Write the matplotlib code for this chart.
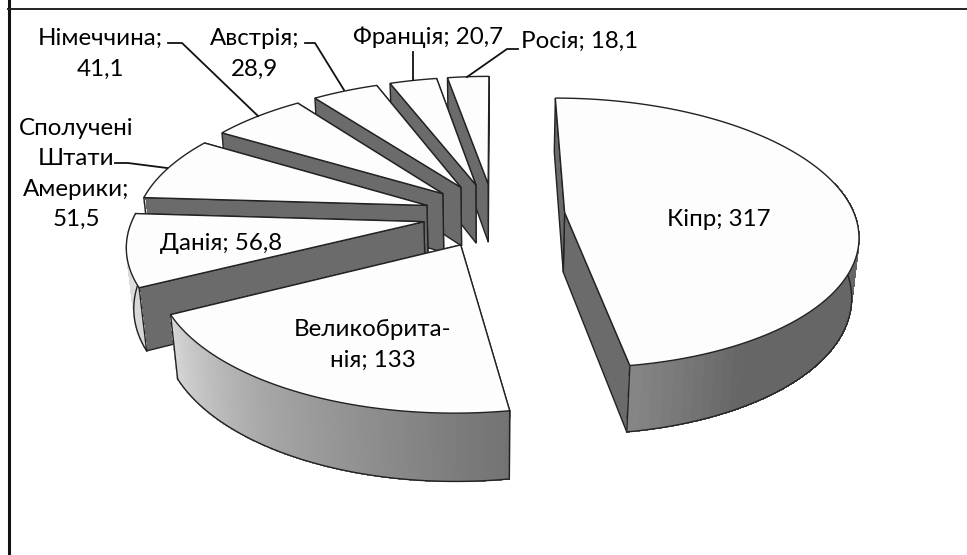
import numpy as np
import matplotlib
matplotlib.use("Agg")
import matplotlib.pyplot as plt
from matplotlib.patches import Polygon

plt.rcParams['font.family'] = ['Lato', 'Open Sans', 'DejaVu Sans']

countries = ['Кіпр', 'Великобританія', 'Данія', 'Сполучені Штати Америки',
             'Німеччина', 'Австрія', 'Франція', 'Росія']
values = [317, 133, 56.8, 51.5, 41.1, 28.9, 20.7, 18.1]

# projection of the tilted pie, fitted by eye (pixels)
CX, CY = 494, 215
AX_X, AX_Y = 290, 132.5
PERSP = 0.152
EXPLODE = 0.245
DEPTH = 61
DEPTH_W = 0.02

TOP = '#fdfdfd'
CUT = '#6b6b6b'
EDGE = '#222222'


def project(x, y, low=False):
    w = 1 + PERSP * y
    if low:
        w = w + DEPTH_W
        return CX + AX_X * x / w, CY + (DEPTH - AX_Y * y) / w
    return CX + AX_X * x / w, CY - AX_Y * y / w


def rim_grey(deg):
    g = np.interp(deg, [90, 150, 171, 171.01, 215, 243, 275],
                  [0x66, 0x66, 0x86, 0x72, 0xa8, 0xd6, 0xe0])
    return str(g / 255)


fig, ax = plt.subplots(figsize=(9.67, 5.55), dpi=100)
fig.patch.set_facecolor('white')
ax.set_position([0, 0, 1, 1])
ax.set_xlim(0, 967)
ax.set_ylim(555, 0)
ax.axis('off')

ax.plot([9, 9], [0, 555], color='#111111', lw=2.2, zorder=1)
ax.plot([8, 967], [8.5, 8.5], color='#222222', lw=1.4, zorder=1)

shares = np.array(values) / sum(values) * 360
starts = np.concatenate([[0], np.cumsum(shares)[:-1]])
# back to front
order = [7, 6, 5, 4, 3, 2, 0, 1]
z = 2
for i in order:
    a0, a1 = starts[i], starts[i] + shares[i]
    mid = np.radians((a0 + a1) / 2)
    ox, oy = EXPLODE * np.sin(mid), EXPLODE * np.cos(mid)
    deg = np.linspace(a0, a1, 90)
    th = np.radians(deg)
    xs, ys = ox + np.sin(th), oy + np.cos(th)
    u, v = project(xs, ys)
    ul, vl = project(xs, ys, low=True)
    au, av = project(ox, oy)
    aul, avl = project(ox, oy, low=True)

    # the two cut faces, far edge first
    for end in (-1, 0):
        pts = [(au, av), (u[end], v[end]), (ul[end], vl[end]), (aul, avl)]
        ax.add_patch(Polygon(pts, closed=True, fc=CUT, ec=EDGE, lw=1.0, zorder=z))

    # rim, as thin strips so that it can carry the gradient; back part is hidden
    front = (deg > 75) & (deg < 274)
    for k in range(len(deg) - 1):
        if not (front[k] and front[k + 1]):
            continue
        pts = [(u[k], v[k]), (u[k + 1], v[k + 1]), (ul[k + 1], vl[k + 1]), (ul[k], vl[k])]
        c = rim_grey((deg[k] + deg[k + 1]) / 2)
        ax.add_patch(Polygon(pts, closed=True, fc=c, ec=c, lw=0.5, antialiased=False, zorder=z + 0.1))
    if front.any():
        ax.plot(ul[front], vl[front], color=EDGE, lw=1.0, zorder=z + 0.2)
    for end in (0, -1):
        if front[end]:
            ax.plot([u[end], ul[end]], [v[end], vl[end]], color=EDGE, lw=1.0, zorder=z + 0.2)

    # top face
    pts = [(au, av)] + list(zip(u, v))
    ax.add_patch(Polygon(pts, closed=True, fc=TOP, ec=EDGE, lw=1.0, zorder=z + 0.3))
    z += 1

# labels and their leader lines
FS = 17.4
LS = 1.55
ax.text(719, 220, f'{countries[0]}; {values[0]}', ha='center', va='center', fontsize=FS, zorder=20)
ax.text(373, 345, 'Великобрита-\nнія; 133', ha='center', va='center', fontsize=FS, linespacing=LS, zorder=20)
ax.text(221, 243, 'Данія; 56,8', ha='center', va='center', fontsize=FS, zorder=20)
ax.text(76, 174, 'Сполучені\nШтати\nАмерики;\n51,5', ha='center', va='center', fontsize=FS, linespacing=LS, zorder=20)
ax.text(100, 54, 'Німеччина;\n41,1', ha='center', va='center', fontsize=FS, linespacing=LS, zorder=20)
ax.text(255, 54, 'Австрія;\n28,9', ha='center', va='center', fontsize=FS, linespacing=LS, zorder=20)
ax.text(428, 37, 'Франція; 20,7', ha='center', va='center', fontsize=FS, zorder=20)
ax.text(580, 41, 'Росія; 18,1', ha='center', va='center', fontsize=FS, zorder=20)

leaders = [
    ([168, 182, 258], [43, 43, 116]),
    ([305, 315, 344], [43, 43, 90]),
    ([412.5, 412.5], [52, 80]),
    ([467, 507, 518], [77, 49, 49]),
    ([115, 128, 167], [163, 163, 168]),
]
for lx, ly in leaders:
    ax.plot(lx, ly, color='#111111', lw=1.3, zorder=20)

fig.savefig('out.png', dpi=100, facecolor='white')
